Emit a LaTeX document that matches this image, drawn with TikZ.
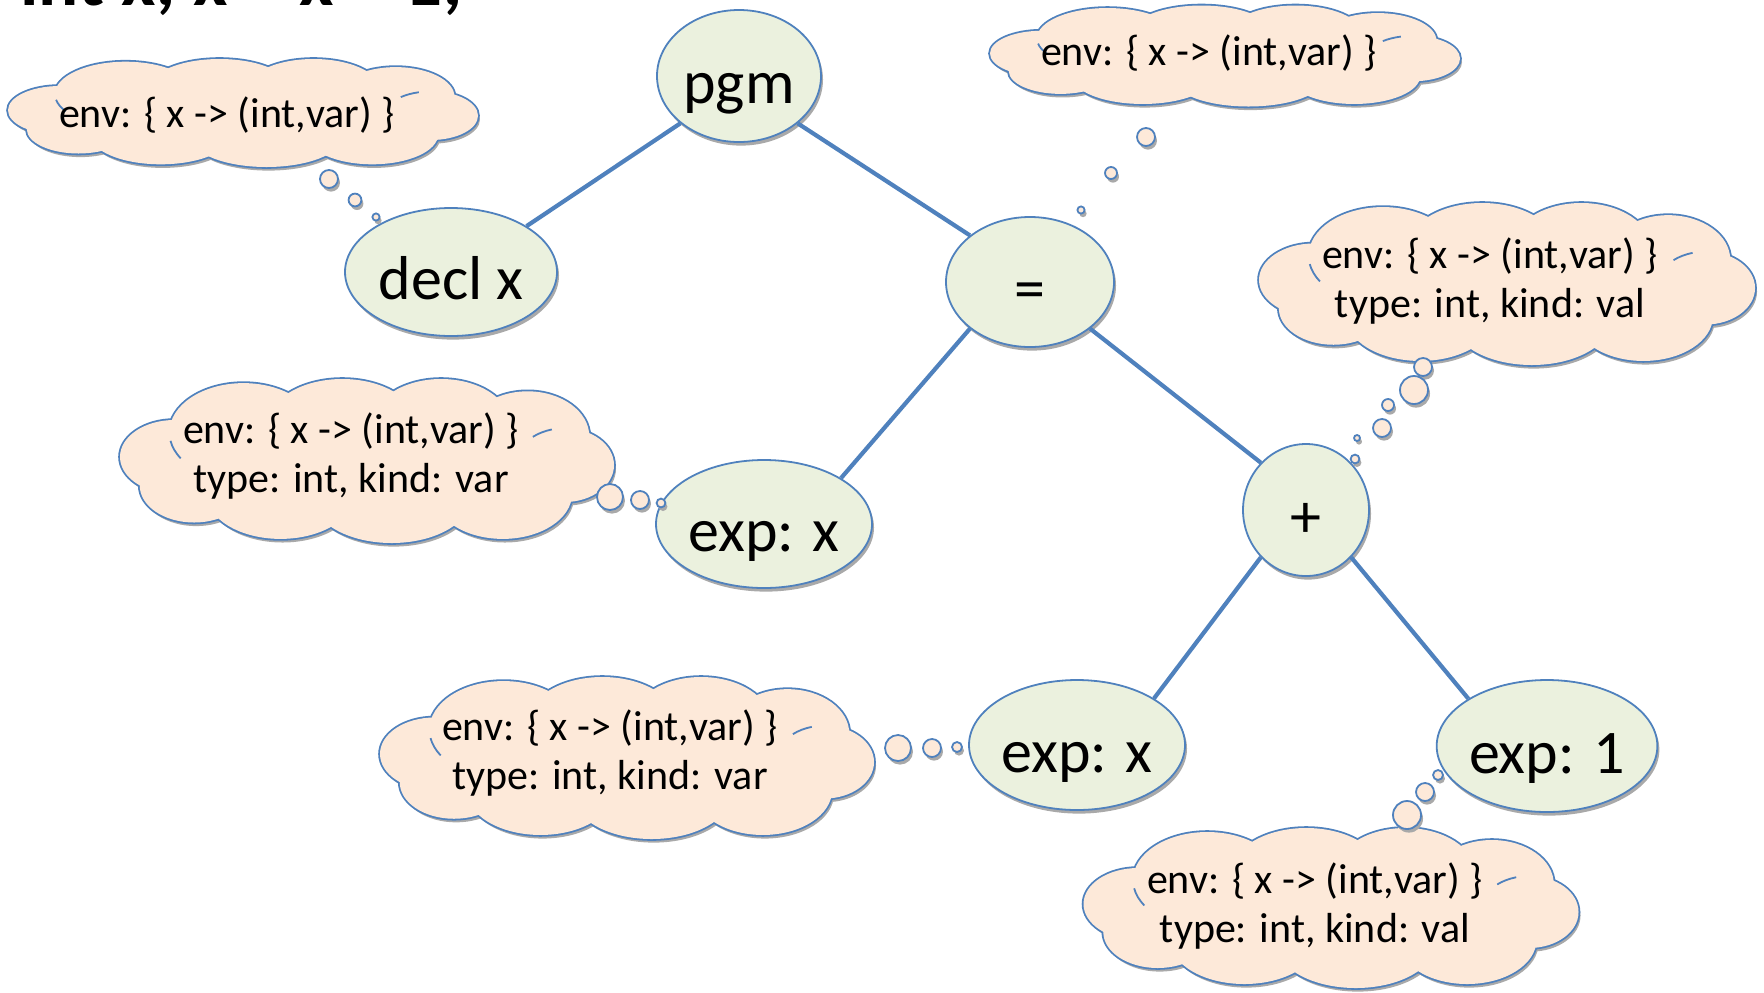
\documentclass[tikz,border=0pt]{standalone}
\usepackage{fontspec}
\setmainfont{Carlito}
\usetikzlibrary{shapes.geometric, shadows}

\definecolor{edgeblue}{HTML}{4F81BD}
\definecolor{nodegreen}{HTML}{EBF1DE}
\definecolor{cloudpeach}{HTML}{FDE9D9}
\definecolor{shadowgray}{HTML}{A9A9A9}

\tikzset{
  flat shadow/.style={drop shadow={shadow xshift=1pt, shadow yshift=-1.8pt, fill=shadowgray, opacity=1}},
  astnode/.style={ellipse, draw=edgeblue, line width=0.9pt, fill=nodegreen, inner sep=0pt,
    text height=30pt, text depth=3pt, flat shadow, font=\fontsize{31}{36}\selectfont},
  note/.style={align=center, font=\fontsize{21}{24.5}\selectfont},
  bubble/.style={draw=edgeblue, line width=0.9pt, fill=cloudpeach, flat shadow},
  branch/.style={draw=edgeblue, line width=2.1pt},
}

% puffs of a cloud: centre x/centre y/radius x/radius y, in half widths
\def\cloudpuffs{-0.78/0.05/0.22/0.45, -0.5/0.35/0.3/0.6, -0.1/0.45/0.3/0.55,
  0.3/0.45/0.28/0.55, 0.65/0.3/0.25/0.55, 0.8/-0.05/0.2/0.45, 0.55/-0.4/0.28/0.55,
  0.1/-0.45/0.32/0.55, -0.35/-0.4/0.3/0.55, -0.7/-0.3/0.22/0.45}
% inner curls: puff, then start and end angle
\def\cloudcurls{-0.5/0.35/0.3/0.6/190/212, 0.8/-0.05/0.2/0.45/105/130}

% #1 centre, #2 half width, #3 half height
\newcommand\puffcloud[3]{%
  \begin{scope}[shift={#1}, x=#2, y=#3]
    \begin{scope}[xshift=1pt, yshift=-1.8pt]
      \foreach \px/\py/\rx/\ry in \cloudpuffs
        \fill[shadowgray] (\px,\py) ellipse [x radius=\rx, y radius=\ry];
    \end{scope}
    \foreach \px/\py/\rx/\ry in \cloudpuffs
      \draw[edgeblue, line width=1.8pt] (\px,\py) ellipse [x radius=\rx, y radius=\ry];
    \foreach \px/\py/\rx/\ry in \cloudpuffs
      \fill[cloudpeach] (\px,\py) ellipse [x radius=\rx, y radius=\ry];
    \fill[cloudpeach] (0,0) ellipse [x radius=0.75, y radius=0.6];
    \foreach \px/\py/\rx/\ry/\sa/\ea in \cloudcurls
      \draw[edgeblue, line width=0.9pt] ({\px+\rx*cos(\sa)},{\py+\ry*sin(\sa)})
        arc [start angle=\sa, end angle=\ea, x radius=\rx, y radius=\ry];
  \end{scope}}

\begin{document}
\begin{tikzpicture}[x=0.5pt, y=-0.5pt]
\useasboundingbox (0,0) rectangle (1764,992);

% program text, cut off at the top
\node[anchor=base west, inner sep=0pt, font=\bfseries\fontsize{37.5}{40}\selectfont] (code) at (20,5) {int x; x = x + 1;};

% syntax tree
\node[astnode, minimum width=82pt, minimum height=66pt] (pgm) at (739,76) {pgm};
\node[astnode, minimum width=106pt, minimum height=64pt] (decl) at (451,272) {decl x};
\node[astnode, minimum width=84pt, minimum height=65pt] (assign) at (1030,282) {=};
\node[astnode, minimum width=108pt, minimum height=64pt] (lhs) at (764,524) {exp: x};
\node[astnode, minimum width=63pt, minimum height=66pt] (plus) at (1306,510) {+};
\node[astnode, minimum width=108pt, minimum height=65pt] (opx) at (1077,745) {exp: x};
\node[astnode, minimum width=110pt, minimum height=66pt] (opone) at (1547,746) {exp: 1};

\draw[branch] (pgm.south west) -- (decl.north east);
\draw[branch] (pgm.south east) -- (assign.north west);
\draw[branch] (assign.south west) -- (lhs.north east);
\draw[branch] (assign.south east) -- (plus.north west);
\draw[branch] (plus.south west) -- (opx.north east);
\draw[branch] (plus.south east) -- (opone.north west);

% annotations
\puffcloud{(243,113)}{117.5pt}{27pt}
\node[note] (t1) at (227,115) {env: \{ x -> (int,var) \}};
\puffcloud{(1225,56)}{117.5pt}{25.25pt}
\node[note] (t2) at (1209,53) {env: \{ x -> (int,var) \}};
\puffcloud{(1507,284)}{124pt}{40.5pt}
\node[note] (t3) at (1490,281) {env: \{ x -> (int,var) \}\\type: int, kind: val};
\puffcloud{(367,461)}{123.5pt}{41pt}
\node[note] (t4) at (351,456) {env: \{ x -> (int,var) \}\\type: int, kind: var};
\puffcloud{(627,758)}{123.5pt}{40.5pt}
\node[note] (t5) at (610,753) {env: \{ x -> (int,var) \}\\type: int, kind: var};
\puffcloud{(1331,908)}{123.75pt}{40pt}
\node[note] (t6) at (1315,906) {env: \{ x -> (int,var) \}\\type: int, kind: val};

% thought bubbles
\draw[bubble] (329,179) circle (4.5pt);
\draw[bubble] (355,200) circle (3.2pt);
\draw[bubble] (376,217) circle (1.8pt);

\draw[bubble] (1146,137) circle (4.5pt);
\draw[bubble] (1111,173) circle (3pt);
\draw[bubble] (1081,210) circle (1.8pt);

\draw[bubble] (1423,367) circle (4.5pt);
\draw[bubble] (1414,390) circle (7pt);
\draw[bubble] (1388,405) circle (3pt);
\draw[bubble] (1382,428) circle (4.5pt);
\draw[bubble] (1357,438) circle (1.5pt);
\draw[bubble] (1355,459) circle (2.2pt);

\draw[bubble] (610,497) circle (6.5pt);
\draw[bubble] (640,500) circle (4.5pt);
\draw[bubble] (661,503) circle (2.2pt);

\draw[bubble] (898,748) circle (6.5pt);
\draw[bubble] (932,748) circle (4.5pt);
\draw[bubble] (957,747) circle (2.5pt);

\draw[bubble] (1407,815) circle (7pt);
\draw[bubble] (1425,792) circle (4.5pt);
\draw[bubble] (1438,775) circle (2.5pt);
\end{tikzpicture}
\end{document}
